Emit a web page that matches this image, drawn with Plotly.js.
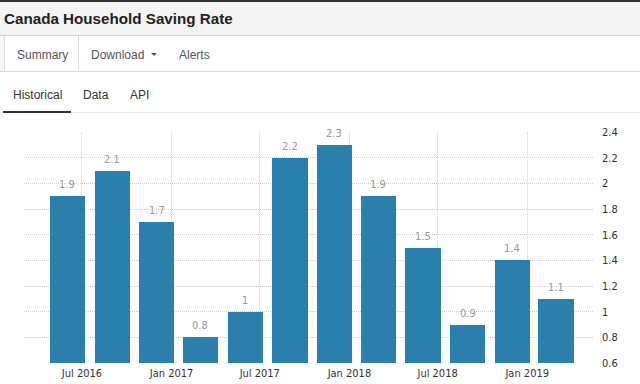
<!DOCTYPE html>
<html>
<head>
<meta charset="utf-8">
<script src="https://cdn.plot.ly/plotly-3.0.1.min.js"></script>
<style>
  html, body { margin:0; padding:0; width:640px; height:384px; overflow:hidden; background:#fff;
    font-family:"Liberation Sans", Arial, sans-serif; }
  .abs { position:absolute; white-space:nowrap; }
  #topbar { left:0; top:0; width:640px; height:2px; background:#333; }
  #header { left:0; top:2px; width:640px; height:33px; background:#f4f4f4; border-bottom:1px solid #d0d0d0; }
  #title { left:4px; top:10px; font-size:15.2px; font-weight:bold; color:#222; line-height:17px; }
  #tabrow { left:0; top:36px; width:640px; height:35px; border-bottom:1px solid #d8d8d8; }
  #leftpad { left:0; top:36px; width:4px; height:35px; background:#f6f6f6; }
  #activetab { left:4px; top:36px; width:73px; height:35px; border-left:1px solid #dcdcdc; border-right:1px solid #dcdcdc; background:#fff; }
  .tab { font-size:12px; color:#555; line-height:14px; top:48px; }
  .sub { font-size:12px; color:#333; line-height:14px; top:88px; }
  #caret { left:151px; top:53px; width:0; height:0; border-left:3px solid transparent; border-right:3px solid transparent; border-top:3px solid #555; }
  #subline { left:0; top:112px; width:640px; height:1px; background:#e8e8e8; }
  #subactive { left:3px; top:111px; width:68px; height:2px; background:#333; }
  #chart { left:0; top:114px; width:640px; height:270px; }
</style>
</head>
<body>
<div class="abs" id="topbar"></div>
<div class="abs" id="header"></div>
<div class="abs" id="title">Canada Household Saving Rate</div>
<div class="abs" id="tabrow"></div>
<div class="abs" id="leftpad"></div>
<div class="abs" id="activetab"></div>
<div class="abs tab" style="left:17px">Summary</div>
<div class="abs tab" style="left:91px">Download</div>
<div class="abs" id="caret"></div>
<div class="abs tab" style="left:179px">Alerts</div>
<div class="abs sub" style="left:13px">Historical</div>
<div class="abs sub" style="left:83px">Data</div>
<div class="abs sub" style="left:130px">API</div>
<div class="abs" id="subline"></div>
<div class="abs" id="subactive"></div>
<div class="abs" id="chart"></div>
<script>
// Quarterly household saving rate (%), Canada
const dates = ["2016-06-01","2016-09-01","2016-12-01","2017-03-01","2017-06-01","2017-09-01",
               "2017-12-01","2018-03-01","2018-06-01","2018-09-01","2018-12-01","2019-03-01"];
const values = [1.9, 2.1, 1.7, 0.8, 1.0, 2.2, 2.3, 1.9, 1.5, 0.9, 1.4, 1.1];
const valueLabels = ["1.9","2.1","1.7","0.8","1","2.2","2.3","1.9","1.5","0.9","1.4","1.1"];

const barColor = "#2a7fad";
const chartFont = "DejaVu Sans Condensed, DejaVu Sans, sans-serif";

const trace = {
  type: "bar",
  x: dates,
  y: values,
  width: dates.map(() => 72 * 86400000),
  marker: { color: barColor, line: { width: 0 } },
  hoverinfo: "skip"
};

const annotations = dates.map((d, i) => ({
  x: d, y: values[i], xref: "x", yref: "y",
  text: valueLabels[i], showarrow: false,
  yanchor: "bottom", yshift: 3,
  font: { family: chartFont, size: 11, color: "#999" }
}));

const layout = {
  width: 640, height: 270,
  margin: { l: 24, r: 47, t: 18, b: 21, pad: 0 },
  paper_bgcolor: "rgba(0,0,0,0)",
  plot_bgcolor: "rgba(0,0,0,0)",
  showlegend: false,
  font: { family: chartFont, size: 11, color: "#333" },
  bargap: 0,
  xaxis: {
    type: "date",
    range: ["2016-03-04", "2019-05-16"],
    tick0: "2016-07-01", dtick: "M6", tickformat: "%b %Y",
    showgrid: true, gridcolor: "#cfcfcf", griddash: "1px,1px", gridwidth: 1,
    ticks: "", showline: false, zeroline: false, ticklabelstandoff: 2,
    tickfont: { family: chartFont, size: 11, color: "#333" }
  },
  yaxis: {
    side: "right",
    range: [0.6, 2.4], dtick: 0.2, tick0: 0.6,
    showgrid: true, gridcolor: "#cfcfcf", griddash: "1px,1px", gridwidth: 1,
    ticks: "", showline: false, zeroline: false, ticklabelstandoff: 8,
    tickfont: { family: chartFont, size: 11, color: "#333" }
  },
  annotations: annotations
};

Plotly.newPlot("chart", [trace], layout, { displayModeBar: false, staticPlot: true });
</script>
</body>
</html>
